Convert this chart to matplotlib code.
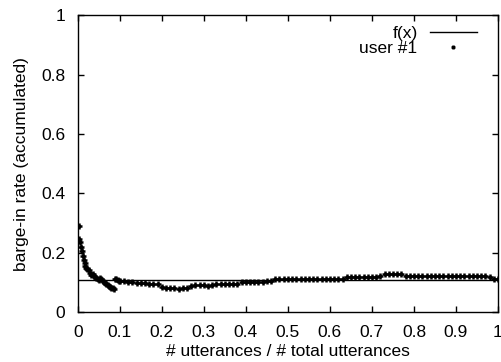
import numpy as np
import matplotlib
matplotlib.use("Agg")
import matplotlib.pyplot as plt

plt.rcParams['font.family'] = ['Liberation Sans', 'DejaVu Sans']

# reference level f(x)
f_level = 0.107

# early part of the curve, read point by point
x_early = [0.002, 0.004, 0.006, 0.008, 0.010, 0.012, 0.014, 0.016, 0.018, 0.020,
           0.023, 0.026, 0.029, 0.032, 0.035, 0.038, 0.041, 0.044, 0.047, 0.050,
           0.053, 0.056, 0.059, 0.062, 0.065, 0.068, 0.071, 0.074, 0.077, 0.080,
           0.083, 0.086, 0.089, 0.092, 0.095, 0.098]
y_early = [0.290, 0.245, 0.235, 0.220, 0.205, 0.190, 0.175, 0.165, 0.155, 0.150,
           0.145, 0.140, 0.130, 0.125, 0.128, 0.120, 0.118, 0.115, 0.112, 0.108,
           0.115, 0.112, 0.105, 0.100, 0.098, 0.095, 0.092, 0.088, 0.085, 0.082,
           0.080, 0.078, 0.110, 0.112, 0.108, 0.106]

# rest of the curve, x = 0.10 .. 1.00
x_late = [round(0.10 + 0.01 * i, 2) for i in range(91)]
y_late = [0.105, 0.103, 0.100, 0.100, 0.098, 0.097, 0.098, 0.096, 0.095, 0.093,
          0.085, 0.082, 0.080, 0.080, 0.076, 0.080, 0.082, 0.089, 0.090, 0.090,
          0.091, 0.088, 0.092, 0.093, 0.093, 0.094, 0.094, 0.095, 0.096, 0.100,
          0.101, 0.102, 0.102, 0.102, 0.102, 0.103, 0.104, 0.110, 0.110, 0.110,
          0.110, 0.110, 0.110, 0.110, 0.110, 0.110, 0.110, 0.110, 0.110, 0.110,
          0.110, 0.110, 0.110, 0.111, 0.117, 0.119, 0.119, 0.119, 0.119, 0.119,
          0.119, 0.119, 0.122, 0.128, 0.128, 0.128, 0.128, 0.128, 0.121, 0.121,
          0.121, 0.121, 0.121, 0.121, 0.121, 0.121, 0.121, 0.121, 0.121, 0.121,
          0.121, 0.121, 0.121, 0.121, 0.121, 0.121, 0.121, 0.120, 0.117, 0.112,
          0.110]

x_user = x_early + x_late
y_user = y_early + y_late

fs = 12.5

fig = plt.figure(figsize=(5.02, 3.62), dpi=100)
ax = fig.add_axes([0.155, 0.138, 0.837, 0.82])

ax.plot([0, 1], [f_level, f_level], color='black', lw=1, label='f(x)')
ax.plot(x_user, y_user, ls='none', marker='+', ms=5, mew=1.8,
        color='black', label='user #1')

ax.set_xlim(0, 1)
ax.set_ylim(0, 1)
ax.set_xticks(np.arange(0, 1.01, 0.1))
ax.set_xticklabels(['0', '0.1', '0.2', '0.3', '0.4', '0.5', '0.6', '0.7', '0.8', '0.9', '1'])
ax.set_yticks(np.arange(0, 1.01, 0.2))
ax.set_yticklabels(['0', '0.2', '0.4', '0.6', '0.8', '1'])
ax.tick_params(direction='in', top=True, right=True, length=4, width=1,
               labelsize=fs)
ax.tick_params(axis='x', pad=9)
ax.tick_params(axis='y', pad=9)
for s in ax.spines.values():
    s.set_linewidth(1)

ax.set_xlabel('# utterances / # total utterances', fontsize=fs, labelpad=3)
ax.set_ylabel('barge-in rate (accumulated)', fontsize=fs, labelpad=9)

ax.legend(loc='upper right', bbox_to_anchor=(0.974, 1.0), frameon=False,
          markerfirst=False, fontsize=fs, handlelength=2.7, borderaxespad=0.2,
          labelspacing=0.0, handletextpad=0.7, markerscale=0.5)

fig.savefig('out.png', dpi=100)
